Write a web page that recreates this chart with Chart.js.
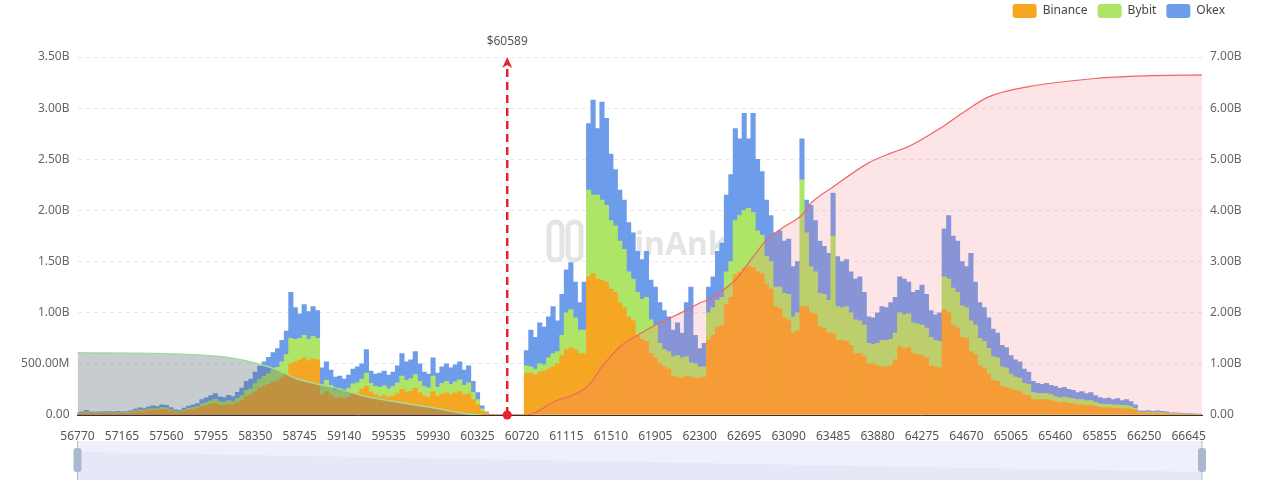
<!DOCTYPE html>
<html>
<head>
<meta charset="utf-8">
<script src="https://cdn.jsdelivr.net/npm/chart.js@4.4.0/dist/chart.umd.min.js"></script>
<style>
  html, body { margin: 0; padding: 0; background: #fff; }
  #wrap { width: 1280px; height: 484px; position: relative; }
</style>
</head>
<body>
<div id="wrap"><canvas id="liqChart"></canvas></div>
<script>
// Price buckets: 254 bins of 39.5 USD from 56770, tick every 10th bin (395 USD)
const priceStart = 56770;
const binSize = 39.5;
const binCount = 254;
const currentPrice = 60589;

// Liquidation amount per bin, in millions USD
const binance = [
  11,16,24,16,15,18,16,18,17,19, 16,19,22,32,38,34,44,50,45,55,
  52,40,28,25,37,48,55,62,82,92, 105,115,98,94,106,99,122,144,180,194,
  230,262,285,300,320,330,360,400,500,520, 540,560,530,550,540,
  200,230,195,165,170,160,175,205,215,250, 280,230,200,180,190,170,185,210,250,225,
  235,260,220,185,175,230,180,205,220,200, 215,230,195,210,150,100,40,14,2,
  0,0,0,0,0,0,0,
  410,410,390,420,430,450,470,500,580,640,
  660,640,600,600,1350,1380,1330,1320,1300,1230,
  1200,1100,1050,960,920,780,740,720,600,560,
  500,470,450,380,370,360,380,370,360,360,
  370,730,780,860,880,1080,1150,1370,1400,1440,
  1450,1440,1400,1380,1280,1230,1060,1040,950,920,
  800,820,1060,1060,1000,990,860,850,800,800,
  730,730,720,680,600,600,570,500,500,480,
  470,470,480,540,670,650,660,600,590,580,
  560,480,470,460,1030,1000,880,850,760,750,
  620,590,480,460,400,340,330,280,270,250,
  240,230,200,190,150,150,150,150,140,130,
  120,125,115,110,100,100,95,95,85,75,
  70,70,65,65,60,60,55,45,18,18,
  20,16,18,15,13,9,10,8,7,7,
  5,5,4
];
const bybit = [
  4,5,8,6,5,5,6,6,5,6, 6,6,7,10,13,11,14,16,15,18,
  17,13,9,8,12,16,18,20,27,30, 34,38,32,30,34,32,40,47,60,63,
  76,86,94,105,120,135,160,190,250,220, 210,220,210,220,210,
  100,110,95,80,85,75,85,100,100,100, 130,80,80,90,95,85,95,105,130,115,
  120,135,110,95,90,150,90,105,110,100, 110,115,95,105,70,50,20,6,1,
  0,0,0,0,0,0,0,
  70,60,60,80,60,110,130,120,200,360,
  370,310,230,230,850,770,820,780,750,670,
  650,600,570,440,410,420,390,430,330,320,
  200,170,170,190,210,200,190,140,140,110,
  100,270,270,260,270,320,350,530,550,560,
  570,540,400,380,270,270,190,210,240,260,
  160,180,1240,720,450,410,330,330,320,950,
  330,320,340,320,330,320,310,200,190,220,
  260,260,260,260,330,330,330,300,300,300,
  290,280,260,260,320,330,360,350,310,300,
  300,290,270,260,250,230,230,190,190,150,
  130,130,110,110,70,60,60,60,60,50,
  50,50,50,50,50,50,45,45,40,35,
  35,35,35,35,35,35,30,20,10,9,
  10,9,10,9,7,5,5,4,3,3,
  3,2,1
];
const okex = [
  5,9,13,8,8,9,8,9,8,10, 8,9,11,16,19,17,22,24,22,27,
  26,19,13,12,19,24,27,30,41,46, 51,57,48,46,52,49,60,71,90,95,
  114,130,141,160,170,185,210,230,450,310, 240,300,270,290,270,
  160,180,150,125,125,115,130,145,155,150, 230,120,120,140,145,135,140,165,220,180,
  185,225,170,140,135,180,140,160,170,160, 165,175,150,165,110,70,30,10,2,
  0,0,0,0,0,0,0,
  150,360,310,400,370,400,460,300,400,420,
  460,350,270,470,650,930,650,960,850,650,
  550,500,480,480,450,400,390,450,390,370,
  400,380,340,260,320,240,530,740,280,180,
  230,250,300,480,530,750,850,900,750,950,
  680,970,700,620,550,450,530,550,510,540,
  490,500,400,320,600,500,510,470,460,420,
  490,450,460,400,400,430,320,260,260,300,
  330,320,360,350,350,350,310,300,330,390,
  330,260,250,280,470,620,510,500,430,400,
  660,420,350,330,300,270,240,210,200,180,
  170,160,140,120,110,100,90,100,90,100,
  90,95,85,80,70,80,70,80,65,60,
  55,60,50,60,45,55,45,35,12,11,
  12,10,12,11,10,6,7,6,5,5,
  4,3,3
];

// Cumulative liquidation curves (bin index -> millions USD, right axis)
const shortCumBins   = [0, 22, 33, 40, 45, 49, 55, 58, 65, 73, 80, 88, 91];
const shortCumValues = [1218, 1193, 1134, 1017, 880, 720, 587, 530, 360, 240, 140, 20, 0];
const longCumBins   = [0, 100, 101, 107, 115, 118, 119, 122, 126, 130, 137, 140, 142, 148, 152, 155, 159, 163, 165, 170, 178, 183, 187, 194, 199, 205, 214, 229, 240, 253];
const longCumValues = [0, 0, 0, 250, 580, 950, 1050, 1330, 1560, 1760, 2050, 2190, 2260, 2640, 3090, 3420, 3680, 3910, 4140, 4460, 4930, 5120, 5250, 5600, 5900, 6220, 6420, 6580, 6630, 6650];

const labels = [];
for (let i = 0; i < binCount; i++) labels.push(String(priceStart + i * binSize));

const toPoints = (bins, values) => bins.map((b, i) => ({ x: labels[b], y: values[i] }));

function fmtAmount(v) {
    if (v === 0) return '0.00';
    if (v >= 1000) return (v / 1000).toFixed(2) + 'B';
    return v.toFixed(2) + 'M';
}

Chart.defaults.font.family = "'Noto Sans', sans-serif";
Chart.defaults.font.size = 12;

// Legend sits a bit left of the canvas edge, above the right axis labels
const legendShift = {
    id: 'legendShift',
    afterLayout(chart) {
        chart.legend.left -= 45;
        chart.legend.right -= 45;
    }
};

// Faint brand watermark behind the bars
const watermark = {
    id: 'watermark',
    beforeDatasetsDraw(chart) {
        const ctx = chart.ctx;
        ctx.save();
        ctx.strokeStyle = '#e4e4e4';
        ctx.lineWidth = 5;
        ctx.beginPath();
        ctx.roundRect(549, 222, 13, 38, 6);
        ctx.roundRect(568, 222, 13, 38, 6);
        ctx.stroke();
        ctx.fillStyle = '#e4e4e4';
        ctx.font = "bold 32px 'Noto Sans', sans-serif";
        ctx.textBaseline = 'alphabetic';
        ctx.fillText('CoinAnk', 594, 255);
        ctx.restore();
    }
};

// Current price marker
const priceMarker = {
    id: 'priceMarker',
    afterDatasetsDraw(chart) {
        const ctx = chart.ctx;
        const xs = chart.scales.x;
        const x = xs.getPixelForValue((currentPrice - priceStart) / binSize);
        const top = chart.chartArea.top;
        const bottom = chart.chartArea.bottom;
        ctx.save();
        ctx.strokeStyle = '#e8222b';
        ctx.fillStyle = '#e8222b';
        ctx.lineWidth = 2.5;
        ctx.setLineDash([8, 5]);
        ctx.beginPath();
        ctx.moveTo(x, bottom);
        ctx.lineTo(x, top + 6);
        ctx.stroke();
        ctx.setLineDash([]);
        ctx.beginPath();
        ctx.moveTo(x, top);
        ctx.lineTo(x - 5, top + 11);
        ctx.lineTo(x, top + 8);
        ctx.lineTo(x + 5, top + 11);
        ctx.closePath();
        ctx.fill();
        ctx.beginPath();
        ctx.arc(x, bottom, 4.5, 0, Math.PI * 2);
        ctx.fill();
        ctx.fillStyle = '#555';
        ctx.font = "12px 'Noto Sans', sans-serif";
        ctx.textAlign = 'center';
        ctx.textBaseline = 'middle';
        ctx.fillText('$' + currentPrice, x, top - 15);
        ctx.restore();
    }
};

// Zoom slider strip under the axis
const slider = {
    id: 'slider',
    afterDraw(chart) {
        const ctx = chart.ctx;
        const { left, right } = chart.chartArea;
        ctx.save();
        ctx.fillStyle = '#eef1fb';
        ctx.fillRect(left, 441, right - left, 39);
        ctx.fillStyle = '#e4e8f7';
        ctx.beginPath();
        ctx.moveTo(left, 452);
        ctx.lineTo(right, 472);
        ctx.lineTo(right, 480);
        ctx.lineTo(left, 480);
        ctx.closePath();
        ctx.fill();
        ctx.strokeStyle = '#aab9cd';
        ctx.fillStyle = '#aab9cd';
        ctx.lineWidth = 1;
        [left, right].forEach(hx => {
            ctx.beginPath();
            ctx.moveTo(hx, 441);
            ctx.lineTo(hx, 480);
            ctx.stroke();
            ctx.beginPath();
            ctx.roundRect(hx - 4, 448, 8, 24, 3);
            ctx.fill();
        });
        ctx.restore();
    }
};

const barStyle = {
    stack: 'liq',
    order: 1,
    borderWidth: 0,
    barPercentage: 1,
    categoryPercentage: 1
};

new Chart(document.getElementById('liqChart'), {
    type: 'bar',
    data: {
        labels: labels,
        datasets: [
            {
                type: 'line',
                label: 'Short cumulative',
                data: toPoints(shortCumBins, shortCumValues),
                yAxisID: 'y1',
                order: 0,
                fill: 'origin',
                backgroundColor: 'rgba(95,110,120,0.35)',
                borderColor: '#a3dc9c',
                borderWidth: 1.5,
                pointRadius: 0,
                cubicInterpolationMode: 'monotone'
            },
            {
                type: 'line',
                label: 'Long cumulative',
                data: toPoints(longCumBins, longCumValues),
                yAxisID: 'y1',
                order: 0,
                fill: 'origin',
                backgroundColor: 'rgba(245,120,130,0.2)',
                borderColor: '#ee6666',
                borderWidth: 1.2,
                pointRadius: 0,
                cubicInterpolationMode: 'monotone'
            },
            { ...barStyle, label: 'Binance', data: binance, backgroundColor: '#F5A623' },
            { ...barStyle, label: 'Bybit', data: bybit, backgroundColor: '#AEE567' },
            { ...barStyle, label: 'Okex', data: okex, backgroundColor: '#6C9CEA' }
        ]
    },
    options: {
        responsive: true,
        maintainAspectRatio: false,
        animation: false,
        layout: {
            padding: { top: -6, right: 0, bottom: 44, left: 0 }
        },
        plugins: {
            legend: {
                position: 'top',
                align: 'end',
                weight: 3000,
                labels: {
                    filter: item => item.datasetIndex >= 2,
                    boxWidth: 24,
                    boxHeight: 14,
                    useBorderRadius: true,
                    borderRadius: 3,
                    padding: 10,
                    color: '#444',
                    font: { size: 12 }
                }
            },
            title: {
                display: true,
                text: '',
                font: { size: 12 },
                padding: { top: 0, bottom: 14.6 }
            },
            tooltip: { enabled: false }
        },
        scales: {
            x: {
                stacked: true,
                offset: false,
                grid: { display: false },
                border: { color: '#333', width: 1 },
                ticks: {
                    autoSkip: false,
                    maxRotation: 0,
                    minRotation: 0,
                    padding: 6,
                    color: '#555',
                    callback: function(val, idx) {
                        return idx % 10 === 0 ? this.getLabelForValue(val) : null;
                    }
                },
                afterFit: scale => { scale.height = 25; }
            },
            y: {
                stacked: true,
                position: 'left',
                min: 0,
                max: 3500,
                grid: { color: '#e9e9e9', drawTicks: false },
                border: { display: false, dash: [4, 4] },
                ticks: {
                    stepSize: 500,
                    padding: 8,
                    color: '#666',
                    callback: v => fmtAmount(v)
                },
                afterFit: scale => { scale.width = 77.5; }
            },
            y1: {
                position: 'right',
                min: 0,
                max: 7000,
                grid: { display: false, drawTicks: false },
                border: { display: false },
                ticks: {
                    stepSize: 1000,
                    padding: 8,
                    color: '#666',
                    callback: v => fmtAmount(v)
                },
                afterFit: scale => { scale.width = 78; }
            }
        }
    },
    plugins: [legendShift, watermark, priceMarker, slider]
});
</script>
</body>
</html>
